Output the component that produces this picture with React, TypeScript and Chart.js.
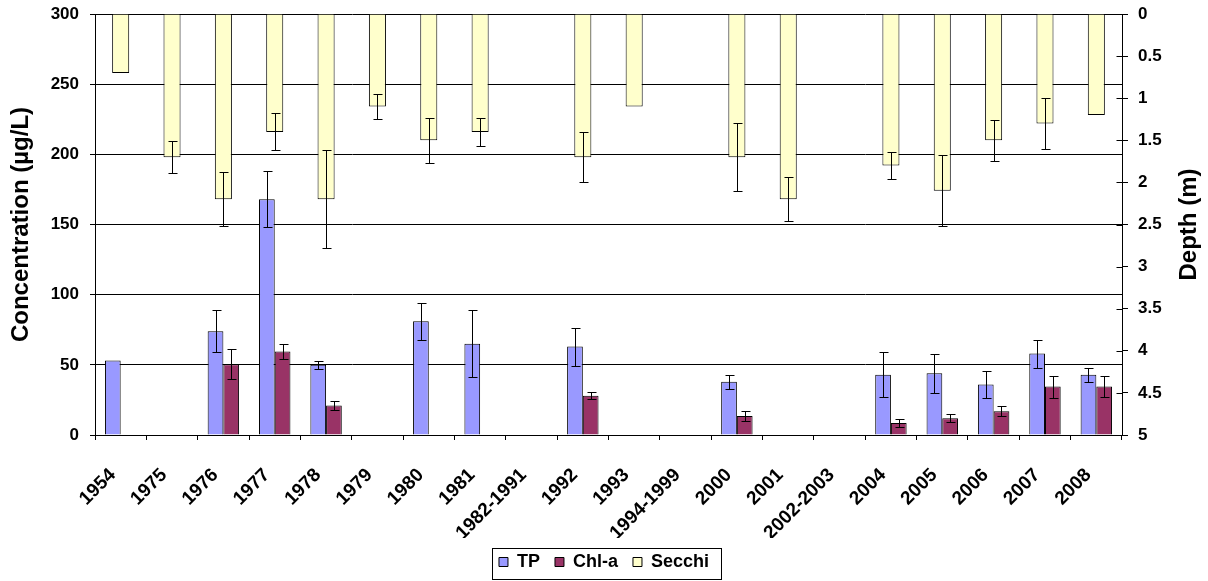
import React, { useEffect, useRef } from "react";
import { Chart, registerables } from "chart.js";

Chart.register(...registerables);

const categories = [
  "1954", "1975", "1976", "1977", "1978", "1979", "1980", "1981", "1982-1991", "1992",
  "1993", "1994-1999", "2000", "2001", "2002-2003", "2004", "2005", "2006", "2007", "2008",
];

const tpValues = [53, null, 74, 168, 50, null, 81, 65, null, 63, null, null, 38, null, null, 43, 44, 36, 58, 43];
const tpErrors = [null, null, 15, 20, 3, null, 13, 24, null, 13.5, null, null, 5, null, null, 16, 14, 9.5, 10, 5];

const chlValues = [null, null, 50.5, 59.5, 21, null, null, null, null, 28, null, null, 13.5, null, null, 8.5, 12, 17, 34.5, 34.5];
const chlErrors = [null, null, 10.5, 5.5, 3.3, null, null, null, null, 2.7, null, null, 3.7, null, null, 2.7, 3, 3.8, 7.8, 7.6];

const secchiValues = [0.7, 1.7, 2.2, 1.4, 2.2, 1.1, 1.5, 1.4, null, 1.7, 1.1, null, 1.7, 2.2, null, 1.8, 2.1, 1.5, 1.3, 1.2];
const secchiErrors = [null, 0.19, 0.32, 0.22, 0.58, 0.15, 0.27, 0.17, null, 0.3, null, null, 0.4, 0.26, null, 0.16, 0.42, 0.24, 0.3, null];

const seriesNames = ["TP", "Chl-a", "Secchi"];
const errorSets = [tpErrors, chlErrors, secchiErrors];

const leftTitle = "Concentration (µg/L)";
const rightTitle = "Depth (m)";

const FONT = '"Liberation Sans", Arial, sans-serif';

const chartPlugin = {
  id: "customDecor",
  afterDatasetsDraw(chart: any) {
    const ctx = chart.ctx;
    ctx.save();
    ctx.strokeStyle = "#000";
    ctx.lineWidth = 1;
    chart.data.datasets.forEach((ds: any, di: number) => {
      const errs = errorSets[di];
      if (!errs) return;
      const meta = chart.getDatasetMeta(di);
      const scale = chart.scales[meta.yAxisID];
      meta.data.forEach((bar: any, i: number) => {
        const v = ds.data[i];
        const e = errs[i];
        if (v == null || e == null) return;
        const x = Math.round(bar.x) + 0.5;
        const y1 = Math.round(scale.getPixelForValue(v - e)) + 0.5;
        const y2 = Math.round(scale.getPixelForValue(v + e)) + 0.5;
        ctx.beginPath();
        ctx.moveTo(x, y1);
        ctx.lineTo(x, y2);
        ctx.moveTo(x - 4, y1);
        ctx.lineTo(x + 5, y1);
        ctx.moveTo(x - 4, y2);
        ctx.lineTo(x + 5, y2);
        ctx.stroke();
      });
    });
    ctx.restore();
  },
  afterDraw(chart: any) {
    const ctx = chart.ctx;
    ctx.save();
    const y2 = chart.scales.y2;
    ctx.strokeStyle = "#000";
    ctx.lineWidth = 1;
    const ax = Math.round(y2.left) + 0.5;
    y2.ticks.forEach((t: any) => {
      const py = Math.round(y2.getPixelForValue(t.value)) + 0.5;
      ctx.beginPath();
      ctx.moveTo(ax - 6, py);
      ctx.lineTo(ax, py);
      ctx.stroke();
    });
    const area = chart.chartArea;
    ctx.fillStyle = "#000";
    ctx.font = `bold 24px ${FONT}`;
    ctx.textAlign = "center";
    ctx.textBaseline = "middle";
    ctx.translate(1189, (area.top + area.bottom) / 2);
    ctx.rotate(-Math.PI / 2);
    ctx.fillText(rightTitle, 0, 0);
    ctx.restore();
    const lg = chart.legend;
    if (lg && lg.legendHitBoxes && lg.legendHitBoxes.length) {
      const boxes = lg.legendHitBoxes;
      const first = boxes[0];
      const last = boxes[boxes.length - 1];
      const l = Math.round(first.left - 7) + 0.5;
      const r = Math.round(last.left + last.width + 12) + 0.5;
      const t = Math.round(first.top - 5) + 0.5;
      const b = Math.round(first.top + first.height + 8) + 0.5;
      ctx.save();
      ctx.strokeStyle = "#000";
      ctx.lineWidth = 1;
      ctx.strokeRect(l, t, r - l, b - t);
      ctx.restore();
    }
  },
};

const noVerticalPadding = (scale: any) => {
  scale.paddingTop = 0;
  scale.paddingBottom = 0;
};

export default function App() {
  const canvasRef = useRef<HTMLCanvasElement | null>(null);

  useEffect(() => {
    const canvas = canvasRef.current;
    if (!canvas) return;
    Chart.defaults.font.family = FONT;
    Chart.defaults.color = "#000";
    const chart = new Chart(canvas, {
      type: "bar",
      data: {
        labels: categories,
        datasets: [
          {
            label: seriesNames[0],
            data: tpValues,
            backgroundColor: "#9999FF",
            borderColor: "#000",
            borderWidth: 1,
            yAxisID: "y",
            categoryPercentage: 0.612,
            barPercentage: 1,
          },
          {
            label: seriesNames[1],
            data: chlValues,
            backgroundColor: "#993366",
            borderColor: "#000",
            borderWidth: 1,
            yAxisID: "y",
            categoryPercentage: 0.612,
            barPercentage: 1,
          },
          {
            label: seriesNames[2],
            data: secchiValues,
            backgroundColor: "#FFFFCC",
            borderColor: "#000",
            borderWidth: 1,
            yAxisID: "y2",
            grouped: false,
            barPercentage: 0.415,
          } as any,
        ],
      },
      options: {
        responsive: false,
        animation: false,
        devicePixelRatio: 1,
        layout: { padding: { top: 14, left: 0, right: 0, bottom: 0 } },
        plugins: {
          tooltip: { enabled: false },
          legend: {
            position: "bottom",
            labels: {
              boxWidth: 9,
              boxHeight: 9,
              padding: 15,
              color: "#000",
              font: { size: 18, weight: "bold", family: FONT },
            },
          },
        },
        scales: {
          x: {
            offset: true,
            grid: {
              offset: true,
              drawOnChartArea: false,
              drawTicks: true,
              tickLength: 5,
              color: "#000",
            },
            border: { color: "#000" },
            ticks: {
              autoSkip: false,
              minRotation: 45,
              maxRotation: 45,
              padding: 24,
              labelOffset: -8,
              color: "#000",
              font: { size: 19, weight: "bold", family: FONT },
            },
            afterFit: (scale: any) => {
              const lh = scale.chart.legend ? scale.chart.legend.height : 40;
              scale.height = 581 - 435 - lh;
            },
          },
          y: {
            position: "left",
            min: 0,
            max: 300,
            ticks: {
              stepSize: 50,
              padding: 11,
              color: "#000",
              font: { size: 17, weight: "bold", family: FONT },
            },
            grid: { color: "#000", tickLength: 5 },
            border: { color: "#000" },
            title: {
              display: true,
              text: leftTitle,
              color: "#000",
              padding: { top: 7, bottom: 0 },
              font: { size: 24, weight: "bold", family: FONT },
            },
            afterFit: (scale: any) => {
              scale.width = 95;
              noVerticalPadding(scale);
            },
          },
          y2: {
            position: "right",
            min: 0,
            max: 5,
            reverse: true,
            ticks: {
              stepSize: 0.5,
              padding: 10,
              color: "#000",
              font: { size: 17, weight: "bold", family: FONT },
              callback: (v: any) => String(Number(v)),
            },
            grid: { drawOnChartArea: false, color: "#000", tickLength: 6 },
            border: { color: "#000" },
            afterFit: (scale: any) => {
              scale.width = 86;
              noVerticalPadding(scale);
            },
          },
        },
      },
      plugins: [chartPlugin],
    } as any);
    return () => chart.destroy();
  }, []);

  return (
    <div style={{ position: "fixed", left: 0, top: 0, width: 1208, height: 581, background: "#fff" }}>
      <canvas ref={canvasRef} width={1208} height={581} style={{ display: "block", width: 1208, height: 581 }} />
    </div>
  );
}
